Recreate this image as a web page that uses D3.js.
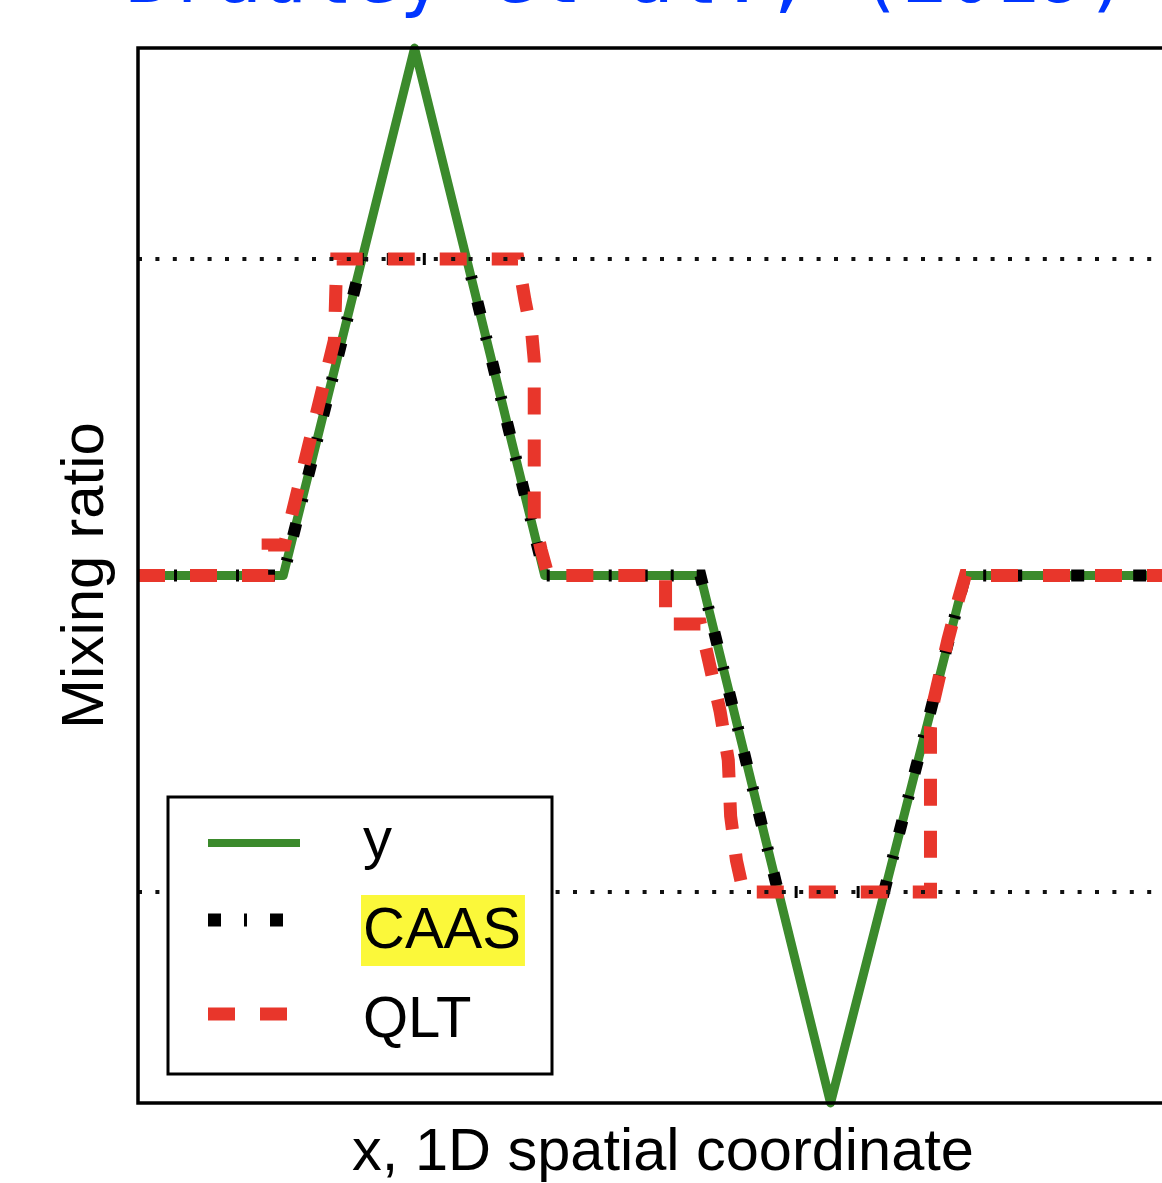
<!DOCTYPE html>
<html>
<head>
<meta charset="utf-8">
<title>Mixing ratio</title>
<script src="https://cdn.jsdelivr.net/npm/d3@7"></script>
<style>
  body { margin: 0; background: #fff; }
  svg { display: block; }
</style>
</head>
<body>
<div id="chart"></div>
<script>
// exact profile y
var xTrue = [0, 0.125, 0.238, 0.350, 0.484, 0.596, 0.712, 1];
var yTrue = [0.5, 0.5, 1.0, 0.5, 0.5, 0.0, 0.5, 0.5];

// CAAS, follows y but stays inside the bounds
var xCaas = [0, 0.125, 0.193, 0.283, 0.350, 0.484, 0.551, 0.642, 0.712, 1];
var yCaas = [0.5, 0.5, 0.8, 0.8, 0.5, 0.5, 0.2, 0.2, 0.5, 0.5];

// QLT
var xQlt = [0, 0.112, 0.112, 0.126, 0.169, 0.170, 0.171, 0.327, 0.333, 0.339, 0.341, 0.341, 0.347, 0.353,
            0.454, 0.454, 0.484, 0.491, 0.501, 0.508, 0.510, 0.515, 0.521, 0.682, 0.682, 0.685, 0.697, 0.706, 0.712, 1];
var yQlt = [0.5, 0.5, 0.529, 0.529, 0.723, 0.761, 0.8, 0.8, 0.761, 0.728, 0.704, 0.553, 0.524, 0.5,
            0.5, 0.454, 0.454, 0.42, 0.371, 0.325, 0.272, 0.23, 0.2, 0.2, 0.356, 0.382, 0.439, 0.477, 0.5, 0.5];

// min / max bounds (dotted)
var bounds = [0.2, 0.8];

var labels = ["y", "CAAS", "QLT"];
var colors = ["#3b8a2c", "#000000", "#e8362b"];
var dashes = [null, "13,23,3,23", "27,25"];
var widths = [9, 12, 13];

var title = "Bradley et al., (2019)";

var W = 1162, H = 1183;
var margin = {top: 48, left: 138, bottom: 80};
var plotW = 1162, plotH = H - margin.top - margin.bottom;

var svg = d3.select("#chart")
  .append("svg")
    .attr("width", W)
    .attr("height", H);

svg.append("rect")
  .attr("width", W)
  .attr("height", H)
  .attr("fill", "#fff");

var x = d3.scaleLinear()
  .domain([0, 1])
  .range([margin.left, margin.left + plotW]);

var y = d3.scaleLinear()
  .domain([0, 1])
  .range([margin.top + plotH, margin.top]);

var line = d3.line()
  .x(function(d) { return x(d[0]); })
  .y(function(d) { return y(d[1]); });

var series = [
  d3.zip(xTrue, yTrue),
  d3.zip(xCaas, yCaas),
  d3.zip(xQlt, yQlt)
];

// the three curves, y first so QLT ends on top
svg.append("g")
  .selectAll("path")
  .data(series)
  .enter().append("path")
    .attr("d", line)
    .attr("fill", "none")
    .attr("stroke", function(d, i) { return colors[i]; })
    .attr("stroke-width", function(d, i) { return widths[i]; })
    .attr("stroke-dasharray", function(d, i) { return dashes[i]; })
    .attr("stroke-linejoin", function(d, i) { return i == 0 ? "round" : "miter"; });

// dotted bound lines
svg.append("g")
  .selectAll("line")
  .data(bounds)
  .enter().append("line")
    .attr("x1", x(0))
    .attr("x2", x(1))
    .attr("y1", function(d) { return y(d); })
    .attr("y2", function(d) { return y(d); })
    .attr("stroke", "#111")
    .attr("stroke-width", 4)
    .attr("stroke-dasharray", "4,13.4");

// axes box
svg.append("rect")
  .attr("x", x(0))
  .attr("y", y(1))
  .attr("width", x(1) - x(0))
  .attr("height", y(0) - y(1))
  .attr("fill", "none")
  .attr("stroke", "#000")
  .attr("stroke-width", 3.5);

// axis labels
svg.append("text")
  .attr("x", 663)
  .attr("y", 1170)
  .attr("text-anchor", "middle")
  .style("font-family", "Liberation Sans, Arial, sans-serif")
  .style("font-size", "59.5px")
  .text("x, 1D spatial coordinate");

svg.append("text")
  .attr("transform", "translate(103," + y(0.5) + ")rotate(-90)")
  .attr("text-anchor", "middle")
  .style("font-family", "Liberation Sans, Arial, sans-serif")
  .style("font-size", "60px")
  .text("Mixing ratio");

// cut off title at the top
svg.append("text")
  .attr("x", 124.5)
  .attr("y", 1.5)
  .style("font-family", "DejaVu Sans Mono, monospace")
  .style("font-size", "76px")
  .attr("fill", "#0035ff")
  .text(title);

// legend
var legend = svg.append("g")
  .attr("transform", "translate(168,797)");

legend.append("rect")
  .attr("width", 384)
  .attr("height", 277)
  .attr("fill", "#fff")
  .attr("stroke", "#000")
  .attr("stroke-width", 3);

var rows = legend.selectAll("g.row")
  .data(labels)
  .enter().append("g")
    .attr("class", "row")
    .attr("transform", function(d, i) { return "translate(0," + (61 + i * 90) + ")"; });

rows.append("line")
  .attr("x1", 40)
  .attr("x2", function(d, i) { return i == 0 ? 132 : 121; })
  .attr("y1", function(d, i) { return i == 0 ? -15 : -28 + (i == 2 ? 4 : 0); })
  .attr("y2", function(d, i) { return i == 0 ? -15 : -28 + (i == 2 ? 4 : 0); })
  .attr("stroke", function(d, i) { return colors[i]; })
  .attr("stroke-width", function(d, i) { return i == 0 ? 8 : 13; })
  .attr("stroke-dasharray", function(d, i) { return dashes[i]; });

var texts = rows.append("text")
  .attr("x", 195)
  .attr("y", function(d, i) { return i == 2 ? -1 : 0; })
  .style("font-family", "Liberation Sans, Arial, sans-serif")
  .style("font-size", "58px")
  .text(function(d) { return d; });

// yellow highlight behind CAAS
var caasRow = rows.filter(function(d) { return d == "CAAS"; });
var bb = caasRow.select("text").node().getBBox();
caasRow.insert("rect", "text")
  .attr("x", bb.x - 2)
  .attr("y", bb.y)
  .attr("width", bb.width + 6)
  .attr("height", bb.height + 6)
  .attr("fill", "#fbf83a");
</script>
</body>
</html>
